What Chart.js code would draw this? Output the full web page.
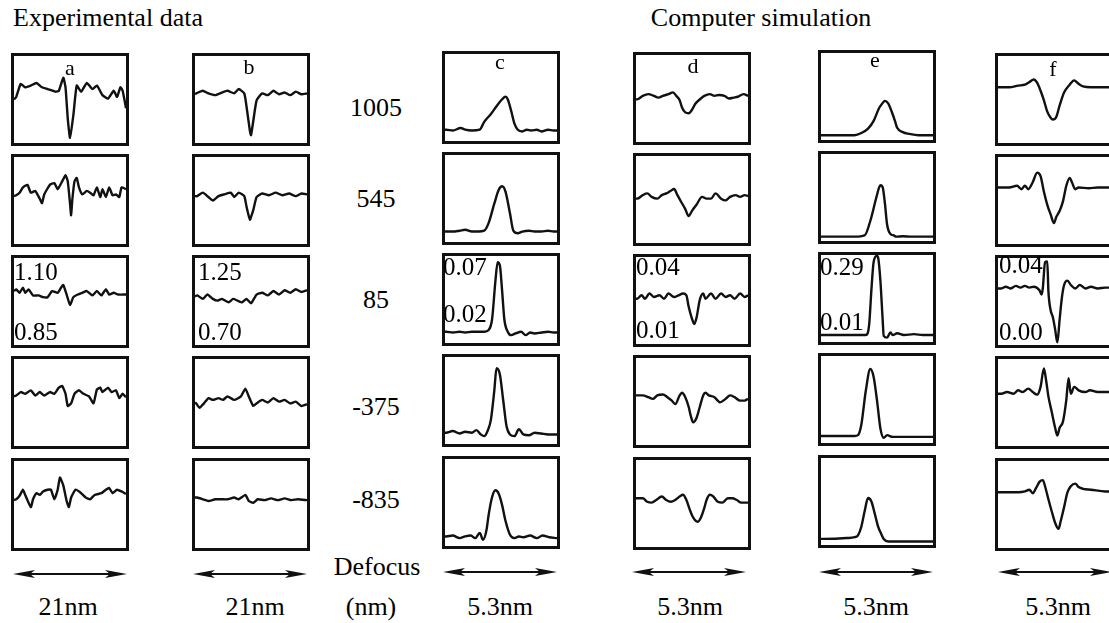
<!DOCTYPE html>
<html>
<head>
<meta charset="utf-8">
<script src="https://cdn.jsdelivr.net/npm/chart.js@4.4.0/dist/chart.umd.min.js"></script>
<style>
  html, body { margin: 0; padding: 0; background: #fff; }
  #fig { position: relative; width: 1109px; height: 623px; overflow: hidden;
         font-family: "Liberation Serif", "Times New Roman", serif; color: #000; }
  .box { position: absolute; border: 3px solid #111; box-sizing: border-box; background: #fff; }
  .box canvas { position: absolute; left: 0; top: 0; }
  .txt { position: absolute; white-space: nowrap; line-height: 1; }
  svg { position: absolute; left: 0; top: 0; }
</style>
</head>
<body>
<div id="fig"></div>
<script>
// column letters, defocus values (nm) and scale bar labels
const columns = ["a", "b", "c", "d", "e", "f"];
const defocus = ["1005", "545", "85", "-375", "-835"];
const scaleBars = ["21nm", "21nm", "5.3nm", "5.3nm", "5.3nm", "5.3nm"];
// intensity range printed in the 85 nm row
const rangeTop = ["1.10", "1.25", "0.07", "0.04", "0.29", "0.04"];
const rangeBottom = ["0.85", "0.70", "0.02", "0.01", "0.01", "0.00"];

// profiles: [position %, intensity % of panel height]
// experimental data, column a
const a1005 = [[0,50],[2,53],[6,68],[10,64],[15,66],[20,69],[25,64],[30,62],[37,59],[40,60],[44,75],[46,64],[48,28],[50,6],[53,32],[56,66],[60,59],[65,69],[70,62],[74,66],[79,55],[84,51],[89,60],[92,53],[95,64],[97,60],[100,40]];
const a545 = [[0,55],[2,56],[5,59],[8,65],[12,68],[15,59],[19,61],[23,52],[25,47],[27,57],[32,68],[36,70],[39,63],[43,72],[46,79],[48,72],[50,47],[51,33],[52,50],[54,72],[56,76],[58,65],[61,57],[65,61],[68,59],[71,56],[74,65],[77,54],[79,63],[82,54],[85,65],[88,56],[91,57],[94,54],[96,65],[100,63]];
const a85 = [[0,62],[2,64],[5,60],[8,66],[10,60],[13,64],[17,57],[22,57],[26,55],[30,55],[34,62],[39,60],[42,66],[44,69],[47,58],[50,46],[53,55],[57,58],[61,60],[65,62],[70,57],[74,62],[78,57],[82,64],[85,58],[89,60],[93,58],[100,58]];
const a_375 = [[0,57],[2,58],[6,62],[10,60],[15,64],[19,58],[23,62],[27,58],[32,62],[36,60],[40,67],[43,69],[46,60],[48,46],[51,49],[54,60],[58,64],[62,60],[67,57],[71,49],[74,65],[77,67],[79,62],[84,67],[87,62],[91,64],[94,55],[97,60],[100,56]];
const a_835 = [[0,55],[2,56],[5,60],[8,67],[10,61],[15,47],[17,56],[20,63],[23,61],[26,65],[30,67],[33,67],[36,56],[39,67],[41,81],[44,72],[47,54],[49,47],[51,58],[55,67],[60,63],[64,58],[68,56],[72,61],[78,63],[82,67],[85,69],[88,63],[92,67],[96,65],[100,62]];
// experimental data, column b
const b1005 = [[0,56],[1,57],[7,60],[12,57],[18,55],[24,58],[29,60],[35,57],[39,62],[44,57],[46,42],[49,14],[50,9],[52,25],[55,49],[60,57],[65,55],[70,60],[75,56],[80,58],[85,55],[90,59],[95,56],[100,57]];
const b545 = [[0,55],[2,55],[7,59],[12,54],[16,50],[21,55],[26,57],[32,59],[35,54],[39,59],[44,55],[46,43],[49,28],[52,39],[55,54],[60,58],[66,56],[72,59],[78,56],[84,58],[90,55],[95,58],[100,57]];
const b85 = [[0,56],[2,57],[7,53],[11,58],[16,53],[20,51],[24,53],[30,49],[34,53],[38,51],[42,49],[46,53],[50,48],[55,58],[60,60],[65,57],[70,62],[75,58],[80,63],[85,60],[90,64],[95,61],[100,63]];
const b_375 = [[0,50],[1,49],[4,44],[8,49],[12,55],[16,53],[21,55],[25,53],[29,57],[35,53],[41,57],[45,66],[48,57],[52,46],[55,49],[60,53],[65,50],[70,55],[75,51],[80,53],[85,49],[90,51],[95,46],[100,48]];
const b_835 = [[0,58],[2,58],[7,56],[12,54],[18,56],[24,56],[29,56],[35,58],[39,56],[45,61],[48,54],[52,52],[56,56],[62,55],[68,57],[74,55],[80,57],[86,55],[92,56],[100,55]];
// computer simulation, column c
const c1005 = [[0,13],[1,13],[7,12],[14,15],[18,13],[24,12],[31,13],[35,22],[41,31],[46,40],[51,48],[54,51],[56,48],[59,35],[62,20],[65,13],[69,11],[73,13],[77,12],[82,13],[86,11],[92,13],[97,12],[100,12]];
const c545 = [[0,12],[1,12],[7,12],[13,13],[18,14],[24,12],[30,12],[35,13],[39,22],[44,44],[48,60],[51,64],[54,58],[58,33],[61,13],[65,10],[69,12],[75,13],[80,12],[86,12],[92,13],[97,12],[100,12]];
const c85 = [[0,13],[1,13],[7,12],[13,13],[18,12],[24,13],[30,13],[35,13],[39,15],[42,27],[45,71],[47,93],[49,89],[51,60],[53,27],[56,13],[59,9],[63,11],[68,13],[72,9],[76,12],[80,11],[86,12],[92,13],[97,12],[100,12]];
const c_375 = [[0,13],[1,13],[7,15],[13,12],[18,14],[24,13],[28,16],[32,11],[35,9],[38,15],[41,28],[44,61],[46,87],[49,80],[52,50],[55,20],[58,11],[62,9],[66,17],[70,11],[75,10],[80,13],[86,12],[92,11],[97,11],[100,11]];
const c_835 = [[0,11],[1,11],[7,12],[13,9],[18,11],[23,12],[27,9],[31,15],[34,7],[37,18],[39,36],[42,56],[45,64],[48,60],[51,47],[54,29],[58,13],[62,9],[66,11],[70,10],[76,12],[82,9],[87,12],[93,10],[100,9]];
// computer simulation, column d
const d1005 = [[0,49],[1,49],[6,53],[11,55],[16,53],[20,51],[24,53],[29,55],[33,57],[36,53],[39,48],[41,40],[44,34],[47,33],[50,37],[53,44],[57,49],[61,53],[66,55],[70,53],[74,54],[79,53],[83,50],[87,51],[91,52],[96,55],[100,53]];
const d545 = [[0,51],[1,51],[6,55],[10,57],[14,53],[19,51],[23,55],[27,57],[31,60],[34,62],[37,55],[40,48],[44,39],[47,31],[50,37],[54,44],[59,53],[63,51],[67,51],[71,57],[76,51],[80,49],[84,53],[89,55],[93,53],[97,55],[100,54]];
const d85 = [[0,52],[1,52],[5,56],[8,52],[12,58],[16,54],[21,56],[25,52],[29,58],[34,54],[38,56],[42,58],[45,56],[47,43],[50,29],[52,23],[54,30],[57,51],[60,58],[62,52],[67,58],[71,52],[76,58],[80,54],[84,56],[88,52],[93,58],[97,54],[100,56]];
const d_375 = [[0,57],[1,57],[6,57],[11,55],[15,53],[19,57],[24,58],[28,55],[32,51],[35,47],[39,57],[41,60],[44,55],[47,44],[49,33],[51,26],[54,31],[57,44],[60,57],[62,60],[65,57],[70,55],[73,51],[75,49],[80,53],[84,57],[88,55],[93,51],[97,51],[100,53]];
const d_835 = [[0,56],[1,56],[6,56],[10,52],[14,51],[18,54],[23,58],[27,54],[31,52],[35,54],[39,58],[42,60],[45,54],[48,43],[51,34],[55,29],[58,34],[61,45],[63,54],[66,60],[69,58],[73,52],[77,51],[82,56],[86,56],[90,54],[94,51],[100,51]];
// computer simulation, column e
const e1005 = [[0,5.5],[2,5.5],[13,5.5],[25,5.5],[30,5.5],[36,8],[42,13],[47,22],[52,37],[53,39],[56,44],[57,45],[60,42],[63,33],[66,22],[68,14],[73,9],[79,7],[87,5.5],[100,5.5]];
const e545 = [[0,5],[2,5],[30,5],[39,6.5],[44,23],[49,48],[52,62],[53,64],[55,62],[57,44],[59,19],[62,8],[65,6.5],[67,5],[73,5.5],[81,5],[100,5]];
const e85 = [[0,8],[2,8],[40,8],[43,20],[45,60],[47,92],[50,99],[51,97],[53,71],[55,27],[56,7],[59,5],[62,11],[64,8],[68,10],[74,8],[83,9],[91,8],[100,8]];
const e_375 = [[0,8],[2,8],[30,8],[33,9],[36,21],[40,60],[44,85],[47,76],[50,49],[53,17],[56,6],[59,9],[64,7],[74,7],[100,7]];
const e_835 = [[0,7],[2,7],[23,8],[30,9],[33,11],[36,21],[39,39],[42,54],[45,50],[48,36],[51,21],[53,15],[56,7],[60,4],[70,4],[100,4]];
// computer simulation, column f
const f1005 = [[0,64],[1,64],[10,64],[18,66],[24,67],[28,70],[32,73],[35,69],[38,60],[41,49],[44,36],[47,29],[49,27],[52,30],[55,43],[59,58],[64,67],[68,72],[72,68],[76,65],[83,64],[95,64],[100,64]];
const f545 = [[0,65],[1,65],[10,65],[17,67],[21,63],[24,67],[27,63],[31,71],[35,82],[38,78],[41,60],[44,45],[47,34],[50,24],[52,31],[55,38],[58,49],[61,67],[64,76],[66,71],[69,63],[72,65],[81,64],[89,65],[100,65]];
const f85 = [[0,65],[3,65],[7,67],[11,65],[16,68],[20,66],[24,68],[28,66],[32,67],[37,63],[39,58],[40,65],[42,95],[44,96],[45,62],[47,40],[49,32],[51,18],[53,3],[55,29],[57,54],[59,69],[62,74],[65,69],[69,65],[73,69],[78,65],[83,67],[89,65],[96,66],[100,66]];
const f_375 = [[0,60],[3,60],[8,62],[14,60],[18,64],[22,62],[27,66],[31,62],[35,59],[38,68],[41,89],[43,75],[45,57],[48,39],[51,21],[53,12],[55,21],[58,28],[61,53],[63,78],[65,60],[68,68],[72,64],[78,62],[82,64],[89,62],[100,62]];
const f_835 = [[0,64],[3,64],[10,64],[18,64],[24,65],[28,67],[31,63],[34,69],[37,76],[40,78],[42,71],[45,56],[48,42],[51,29],[54,22],[56,31],[59,47],[62,64],[65,71],[69,74],[72,70],[76,68],[83,67],[96,65],[100,65]];

const profiles = [
  [a1005, a545, a85, a_375, a_835],
  [b1005, b545, b85, b_375, b_835],
  [c1005, c545, c85, c_375, c_835],
  [d1005, d545, d85, d_375, d_835],
  [e1005, e545, e85, e_375, e_835],
  [f1005, f545, f85, f_375, f_835],
];

// page layout
const colLeft = [11, 192, 442, 633, 818, 995];
const colShift = [0, 0, -2, -1, -3, 0];
const rowTop = [53, 154, 255, 356, 458];
const boxW = 118, boxH = 93, border = 3;
const letterPos = [[70, 68], [249, 67], [500, 62], [693, 66], [875, 60], [1053, 69]];
const barLabelX = [68, 255, 500, 690, 876, 1058];
const arrowSpan = [[13, 127, 574], [193, 307, 574], [443, 557, 572], [632, 746, 572], [819, 933, 572], [998, 1112, 572]];
const rangePos = [[14, 280, 340], [198, 280, 340], [443, 275, 322], [636, 275, 338], [820, 275, 330], [999, 273, 340]];
const defocusY = [108, 199, 300, 407, 500];

const fig = document.getElementById("fig");

// text helper: mode "c" centres on x,y; mode "b" puts left edge at x and baseline at y
function addText(str, x, y, size, mode) {
  const d = document.createElement("div");
  d.className = "txt";
  d.textContent = str;
  d.style.fontSize = size + "px";
  d.style.left = x + "px";
  if (mode === "b") {
    d.style.top = (y - 0.8375 * size) + "px";
  } else {
    d.style.top = y + "px";
    d.style.transform = "translate(-50%, -50%)";
  }
  fig.appendChild(d);
}

function drawPanel(col, row) {
  const box = document.createElement("div");
  box.className = "box";
  box.style.left = colLeft[col] + "px";
  box.style.top = (rowTop[row] + colShift[col]) + "px";
  box.style.width = boxW + "px";
  box.style.height = boxH + "px";
  const cv = document.createElement("canvas");
  cv.width = boxW - 2 * border;
  cv.height = boxH - 2 * border;
  box.appendChild(cv);
  fig.appendChild(box);

  const smooth = col >= 2; // simulated profiles are smooth curves
  new Chart(cv, {
    type: "line",
    data: {
      datasets: [{
        data: profiles[col][row].map((p) => ({ x: p[0], y: p[1] })),
        borderColor: "#111",
        borderWidth: 2.4,
        borderJoinStyle: "round",
        pointRadius: 0,
        fill: false,
        tension: smooth ? 0.4 : 0.15,
        cubicInterpolationMode: smooth ? "monotone" : "default",
      }],
    },
    options: {
      responsive: false,
      animation: false,
      events: [],
      layout: { padding: 0 },
      plugins: { legend: { display: false }, tooltip: { enabled: false } },
      scales: {
        x: { type: "linear", min: 0, max: 100, display: false },
        y: { min: 0, max: 100, display: false },
      },
    },
  });
}

for (let c = 0; c < columns.length; c++) {
  for (let r = 0; r < defocus.length; r++) drawPanel(c, r);
}

// headings
addText("Experimental data", 108, 18, 26, "c");
addText("Computer simulation", 761, 18, 26, "c");

columns.forEach((l, i) => addText(l, letterPos[i][0], letterPos[i][1], 22, "c"));
defocus.forEach((v, i) => addText(v, 376, defocusY[i], 26, "c"));
addText("Defocus", 377, 567, 26, "c");
addText("(nm)", 371, 607, 26, "c");
scaleBars.forEach((s, i) => addText(s, barLabelX[i], 607, 26, "c"));
rangeTop.forEach((s, i) => addText(s, rangePos[i][0], rangePos[i][1], 25, "b"));
rangeBottom.forEach((s, i) => addText(s, rangePos[i][0], rangePos[i][2], 25, "b"));

// double-headed scale arrows
const ns = "http://www.w3.org/2000/svg";
const svg = document.createElementNS(ns, "svg");
svg.setAttribute("width", 1109);
svg.setAttribute("height", 623);
arrowSpan.forEach(([x1, x2, y]) => {
  const line = document.createElementNS(ns, "line");
  line.setAttribute("x1", x1 + 10); line.setAttribute("x2", x2 - 10);
  line.setAttribute("y1", y); line.setAttribute("y2", y);
  line.setAttribute("stroke", "#111"); line.setAttribute("stroke-width", 2);
  svg.appendChild(line);
  const heads = document.createElementNS(ns, "path");
  heads.setAttribute("d",
    `M${x1},${y} L${x1 + 22},${y - 4} L${x1 + 17},${y} L${x1 + 22},${y + 4} Z ` +
    `M${x2},${y} L${x2 - 22},${y - 4} L${x2 - 17},${y} L${x2 - 22},${y + 4} Z`);
  heads.setAttribute("fill", "#111");
  svg.appendChild(heads);
});
fig.appendChild(svg);
</script>
</body>
</html>
